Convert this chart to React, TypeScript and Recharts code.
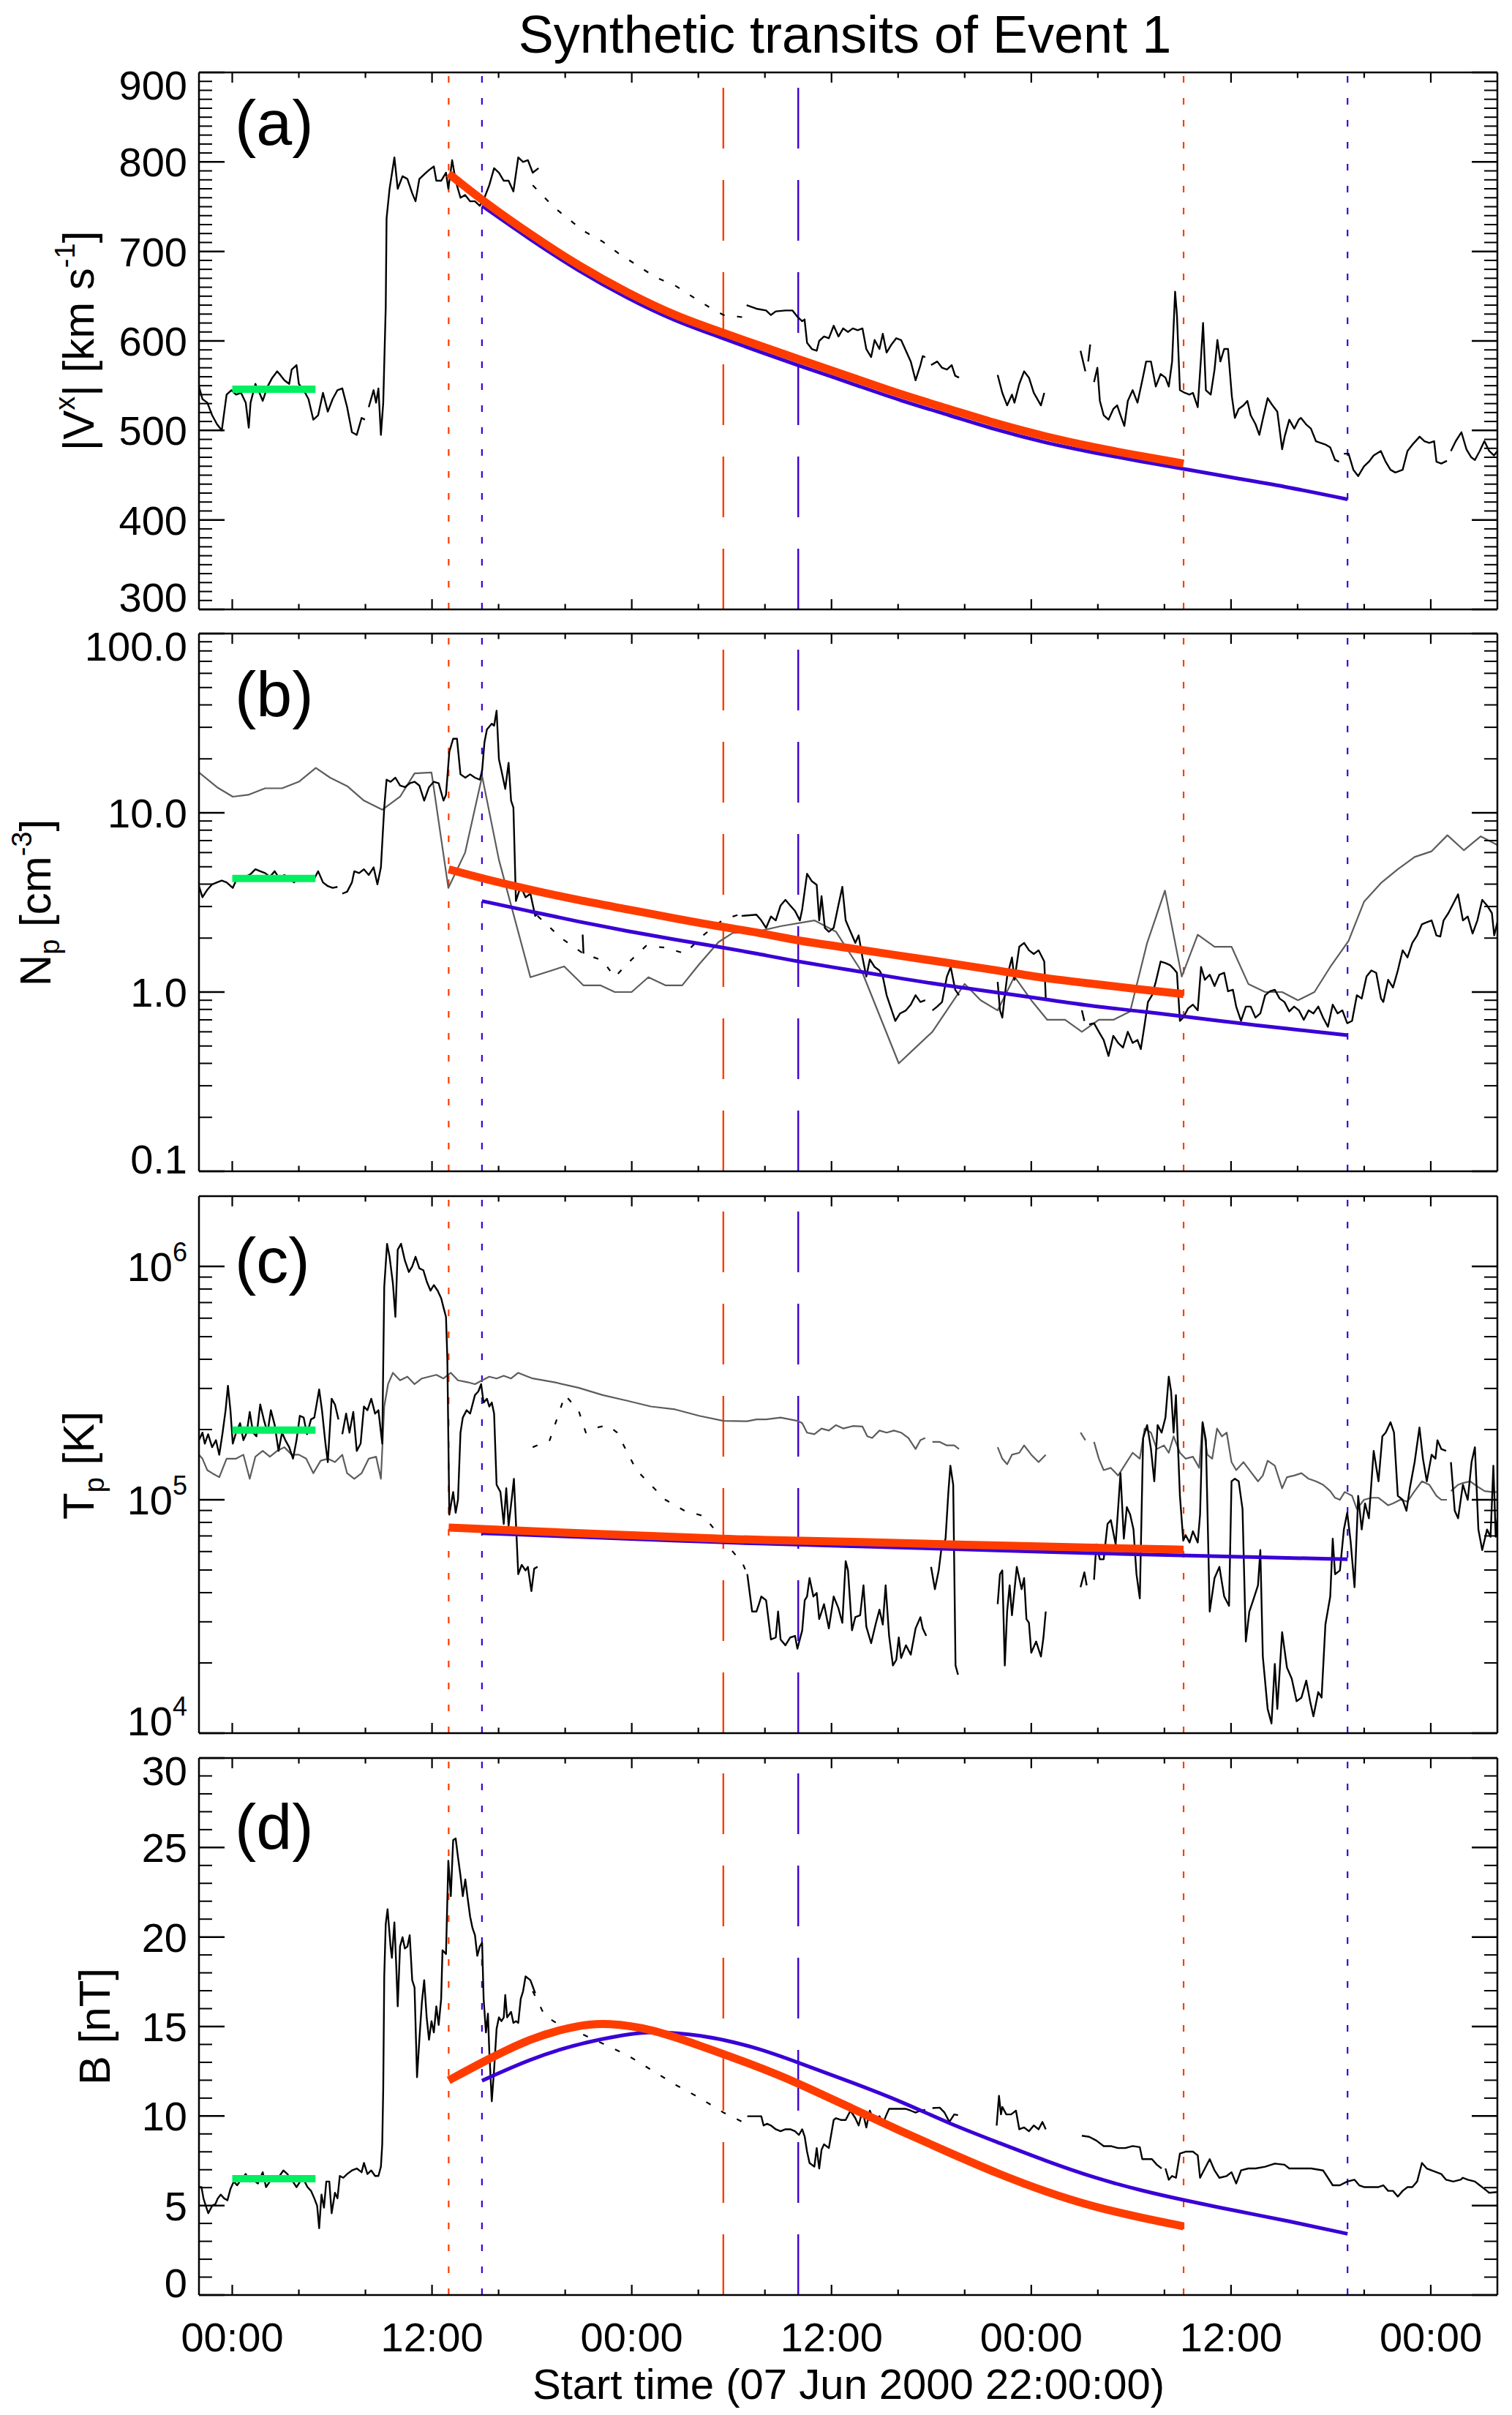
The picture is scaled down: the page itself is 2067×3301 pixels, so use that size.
import React from 'react';
import { LineChart, Line, XAxis, YAxis, ReferenceLine } from 'recharts';

type Pt = [number, number | null];

const FONT = '"Liberation Sans", Arial, Helvetica, sans-serif';
const RED = '#ff3c00';
const BLUE = '#3a00d6';
const GREEN = '#00f060';
const GRAY = '#5c5c5c';
const BLACK = '#000000';

// ---------- time axis: hours after 07 Jun 2000 22:00 ----------
const X_DOMAIN: [number, number] = [0, 78];
const X_TICKS = [2, 6, 10, 14, 18, 22, 26, 30, 34, 38, 42, 46, 50, 54, 58, 62, 66, 70, 74];
const X_MAJOR = [2, 14, 26, 38, 50, 62, 74];
const X_LABELS = ['00:00', '12:00', '00:00', '12:00', '00:00', '12:00', '00:00'];

// boundary times (hours)
const T_RED_START = 15.0;
const T_RED_END = 59.15;
const T_BLUE_START = 17.0;
const T_BLUE_END = 69.0;
const T_RED_MID = 31.5;
const T_BLUE_MID = 36.0;

// ---------- y tick values ----------
const A_MAJOR = [300, 400, 500, 600, 700, 800, 900];
const A_TICKS = [300,310,320,330,340,350,360,370,380,390,400,410,420,430,440,450,460,470,480,490,500,510,520,530,540,550,560,570,580,590,600,610,620,630,640,650,660,670,680,690,700,710,720,730,740,750,760,770,780,790,800,810,820,830,840,850,860,870,880,890,900];
const B_MAJOR = [0.1, 1, 10, 100];
const B_TICKS = [0.1,0.2,0.3,0.4,0.5,0.6,0.7,0.8,0.9,1,2,3,4,5,6,7,8,9,10,20,30,40,50,60,70,80,90,100];
const B_LABELS: Record<string, string> = { '0.1': '0.1', '1': '1.0', '10': '10.0', '100': '100.0' };
const C_MAJOR = [1e4, 1e5, 1e6];
const C_TICKS = [1e4,2e4,3e4,4e4,5e4,6e4,7e4,8e4,9e4,1e5,2e5,3e5,4e5,5e5,6e5,7e5,8e5,9e5,1e6];
const C_EXP: Record<string, string> = { '10000': '4', '100000': '5', '1000000': '6' };
const D_MAJOR = [0, 5, 10, 15, 20, 25, 30];
const D_TICKS = [0,1,2,3,4,5,6,7,8,9,10,11,12,13,14,15,16,17,18,19,20,21,22,23,24,25,26,27,28,29,30];

// ---------- (a) |Vx| km/s ----------
const A_OBS: Pt[] = [
  [0,549],[0.21,535],[0.5,531],[0.79,517],[1.08,507],[1.37,500],[1.66,540],[1.95,545],[2.23,540],[2.53,542],[2.81,531],[2.99,503],[3.1,531],[3.39,552],[3.68,540],[3.83,533],[4.12,549],[4.41,559],[4.7,566],[4.84,563],[5.13,556],[5.42,552],[5.57,568],[5.86,573],[6.0,552],[6.29,545],[6.58,535],[6.87,512],[7.16,517],[7.45,542],[7.74,521],[8.03,535],[8.32,545],[8.61,547],[8.9,526],[9.19,498],[9.48,495],[9.77,514],[9.97,512],[10.08,null],
  [10.2,526],[10.49,545],[10.64,531],[10.78,547],[10.93,495],[11.07,531],[11.22,638],[11.27,737],[11.45,770],[11.74,805],[11.94,770],[12.23,784],[12.52,781],[12.81,765],[13.01,756],[13.24,781],[13.53,786],[13.82,791],[14.11,795],[14.26,779],[14.55,779],[14.84,788],[14.98,770],[15.21,802],[15.42,779],[15.71,760],[15.99,763],[16.29,756],[16.58,756],[16.87,751],[17.15,760],[17.44,774],[17.73,793],[18.02,788],[18.31,779],[18.6,779],[18.89,767],[19.18,805],[19.47,800],[19.76,802],[20.05,788],[20.4,793],[26,null],
  [32.9,640],[33.49,636],[34.07,634],[34.36,629],[34.65,633],[35.23,634],[35.66,634],[35.95,627],[36.24,622],[36.38,624],[36.53,598],[36.82,591],[37.11,589],[37.26,600],[37.55,605],[37.84,603],[38.13,617],[38.42,605],[38.7,614],[38.99,610],[39.28,614],[39.57,612],[39.86,614],[40.09,591],[40.38,582],[40.59,601],[40.88,591],[41.08,608],[41.31,587],[41.6,596],[41.89,603],[42.18,601],[42.47,589],[42.76,577],[43.05,556],[43.34,573],[43.48,583],[43.63,582],[43.8,null],
  [43.98,573],[44.35,577],[44.64,570],[44.93,568],[45.22,573],[45.43,561],[45.66,559],[46.8,null],
  [47.98,562],[48.26,542],[48.55,528],[48.84,540],[48.99,531],[49.28,552],[49.57,566],[49.86,559],[50.15,542],[50.58,528],[50.78,542],[51.9,null],
  [52.96,589],[53.25,566],[53.33,null],[53.42,577],[53.54,596],[53.65,null],
  [53.77,554],[53.97,570],[54.12,533],[54.35,517],[54.64,512],[54.93,524],[55.16,528],[55.36,517],[55.59,505],[55.8,533],[56.09,545],[56.38,531],[56.67,556],[56.9,577],[57.19,577],[57.48,549],[57.77,563],[58.06,559],[58.26,549],[58.46,577],[58.64,655],[58.75,629],[58.93,545],[59.22,542],[59.5,540],[59.71,542],[60.0,526],[60.2,582],[60.32,620],[60.49,545],[60.78,540],[61.01,568],[61.18,601],[61.36,577],[61.59,591],[61.82,591],[62.05,538],[62.23,514],[62.46,524],[62.75,528],[62.98,533],[63.18,517],[63.47,507],[63.7,495],[63.9,512],[64.2,536],[64.49,528],[64.78,521],[65.07,479],[65.22,493],[65.5,512],[65.8,502],[66.07,512],[66.2,514],[66.5,507],[66.8,502],[67.1,488],[67.38,486],[67.7,484],[67.96,481],[68.25,467],[68.49,465],[68.62,null],
  [68.78,474],[69.06,474],[69.35,456],[69.64,449],[69.99,460],[70.28,465],[70.57,472],[71.0,477],[71.29,465],[71.58,456],[71.87,453],[72.31,456],[72.6,477],[72.89,484],[73.33,493],[73.62,488],[73.91,486],[74.2,488],[74.34,465],[74.63,463],[74.97,466],[75.08,null],
  [75.21,477],[75.5,488],[75.84,498],[76.14,479],[76.43,470],[76.65,467],[76.94,477],[77.22,488],[77.51,477],[77.8,472],[78.0,477],
];
const A_GAPFILL: Pt[] = [[20.05,774],[21.35,749],[23.09,723],[24.25,711],[25.27,697],[26.28,685],[27.44,671],[28.6,662],[29.76,648],[30.63,638],[31.5,629],[32.9,626]];
const A_UPSTREAM: Pt[] = [[2,546],[7,546]];
const A_RED: Pt[] = [[15.0,787],[17.01,757],[19.91,719],[22.8,684],[25.7,654],[28.6,628],[31.5,609],[33.49,596],[35.95,580],[39.28,559],[42.18,540],[45.08,524],[47.98,507],[50.87,493],[53.77,481],[56.67,471],[59.15,463]];
const A_BLUE: Pt[] = [[17.0,751],[19.91,713],[22.8,678],[25.7,648],[28.6,622],[31.5,603],[33.49,589],[35.95,573],[39.28,552],[42.18,533],[45.08,517],[47.98,500],[50.87,486],[53.77,475],[56.67,465],[59.16,457],[62.46,446],[65.36,437],[69.0,423]];

// ---------- (b) Np cm^-3 ----------
const B_OBS: Pt[] = [
  [0,3.9],[0.21,3.38],[0.5,3.72],[0.79,3.99],[1.08,4.09],[1.37,4.19],[1.66,4.09],[2.03,3.81],[2.23,4.19],[2.53,4.29],[2.81,4.4],[3.1,4.55],[3.39,4.84],[3.68,4.72],[3.97,4.61],[4.26,4.4],[4.55,4.72],[4.84,4.29],[5.13,4.5],[5.42,4.29],[5.71,4.09],[6.0,4.4],[6.29,4.29],[6.58,4.4],[6.87,4.19],[7.16,4.72],[7.45,4.09],[7.74,3.9],[8.03,3.81],[8.32,3.86],[8.46,null],
  [8.61,3.54],[8.9,3.63],[9.19,4.09],[9.33,4.72],[9.62,4.61],[9.91,4.84],[10.2,4.5],[10.49,4.96],[10.72,3.99],[10.93,4.96],[11.13,10.7],[11.27,15.3],[11.51,14.9],[11.8,15.7],[12.08,14.2],[12.37,13.9],[12.66,14.6],[12.95,14.9],[13.24,14.2],[13.53,11.7],[13.82,13.9],[14.11,14.9],[14.4,14.6],[14.69,11.7],[14.84,12.6],[15.04,21.9],[15.27,25.9],[15.5,25.9],[15.71,16.4],[16.0,15.7],[16.29,16.4],[16.58,15.7],[16.87,15.3],[17.01,17.2],[17.15,24.7],[17.3,29.2],[17.59,31.4],[17.73,30.6],[17.88,37.1],[18.02,19.9],[18.17,17.2],[18.4,13.6],[18.6,19.0],[18.75,11.7],[18.89,10.7],[19.04,3.22],[19.33,3.9],[19.62,3.38],[19.91,3.54],[20.2,2.66],[20.34,2.72],[21.5,null],
  [23.05,2.09],[23.1,1.64],[27,null],
  [32.6,2.66],[33.49,2.7],[33.78,2.51],[34.07,2.28],[34.36,2.64],[34.65,2.51],[34.94,3.04],[35.23,3.27],[35.52,3.04],[35.81,2.83],[36.1,2.51],[36.24,2.9],[36.53,4.57],[36.82,4.15],[37.11,3.96],[37.26,2.51],[37.4,3.43],[37.6,2.28],[37.84,2.17],[38.13,2.28],[38.41,3.04],[38.65,3.86],[38.85,2.51],[39.14,2.17],[39.43,1.88],[39.63,2.07],[39.86,1.56],[40.09,1.22],[40.3,1.52],[40.59,1.38],[40.88,1.32],[41.08,1.22],[41.31,0.96],[41.54,0.83],[41.83,0.69],[42.12,0.76],[42.47,0.79],[42.76,0.85],[43.05,0.96],[43.34,0.88],[43.63,0.9],[43.85,null],
  [44.06,0.79],[44.35,0.83],[44.64,0.88],[44.93,1.22],[45.16,1.38],[45.43,1.03],[45.66,0.96],[46.8,null],
  [47.98,1.14],[48.12,0.79],[48.26,0.72],[48.41,0.96],[48.55,1.22],[48.84,1.56],[48.99,1.17],[49.28,1.79],[49.57,1.88],[49.86,1.71],[50.15,1.63],[50.44,1.71],[50.78,1.48],[50.87,0.92],[52,null],
  [53.04,0.79],[53.19,0.69],[53.33,null],
  [53.48,0.66],[53.77,0.67],[54.06,0.6],[54.35,0.54],[54.64,0.44],[54.93,0.57],[55.22,0.52],[55.51,0.49],[55.8,0.6],[56.09,0.52],[56.38,0.54],[56.58,0.48],[56.81,0.66],[57.01,0.88],[57.25,0.96],[57.48,1.14],[57.77,1.48],[58.06,1.45],[58.35,1.41],[58.55,1.35],[58.75,1.28],[58.93,0.69],[59.13,0.72],[59.42,0.81],[59.71,0.85],[60.0,0.79],[60.2,1.38],[60.43,1.17],[60.72,1.25],[61.01,1.08],[61.3,1.25],[61.59,1.28],[61.82,1.01],[62.11,1.03],[62.31,0.83],[62.6,0.69],[62.89,0.83],[63.18,0.83],[63.47,0.72],[63.76,0.76],[64.05,0.96],[64.34,1.01],[64.63,1.03],[64.92,0.92],[65.21,0.88],[65.5,0.78],[65.79,0.83],[66.08,0.79],[66.37,0.7],[66.66,0.79],[66.95,0.76],[67.24,0.83],[67.53,0.72],[67.82,0.64],[68.11,0.85],[68.4,0.76],[68.69,0.79],[68.98,0.67],[69.27,0.69],[69.56,0.96],[69.85,0.92],[70.14,1.22],[70.43,1.32],[70.72,1.28],[71.01,0.92],[71.15,0.88],[71.44,1.17],[71.73,1.06],[72.02,1.32],[72.31,1.71],[72.6,1.56],[72.89,1.88],[73.18,2.07],[73.47,2.39],[73.76,2.45],[74.05,2.51],[74.34,2.07],[74.57,2.04],[74.77,2.51],[75.06,2.76],[75.35,3.11],[75.64,3.51],[75.93,2.51],[76.22,2.64],[76.51,2.12],[76.8,2.51],[77.09,3.27],[77.38,3.04],[77.67,2.76],[77.81,2.07],[78.0,2.45],
];
const B_REF: Pt[] = [[0,16.8],[1.08,13.9],[2.03,12.3],[2.96,12.6],[3.97,13.7],[4.99,13.7],[6.0,14.9],[7.02,17.8],[7.88,15.7],[8.9,14.1],[9.91,11.7],[11.01,10.4],[12.08,12.3],[12.95,16.6],[13.97,16.8],[14.98,3.81],[15.99,6.0],[17.01,16.0],[18.02,5.46],[19.91,1.21],[21.94,1.39],[23.09,1.09],[24.11,1.09],[24.98,1.0],[25.99,1.0],[27.0,1.21],[28.02,1.09],[29.03,1.09],[30.05,1.43],[31.21,1.9],[32.07,2.14],[33.49,2.17],[34.94,2.33],[36.97,2.51],[38.27,2.17],[39.86,1.28],[42.04,0.4],[43.05,0.49],[44.06,0.6],[45.08,0.83],[46.0,1.11],[46.96,0.9],[47.98,0.79],[48.99,1.22],[50.0,0.9],[50.96,0.7],[52.03,0.7],[53.04,0.6],[54.06,0.7],[54.93,0.7],[55.94,0.78],[56.96,1.88],[58.03,3.68],[59.04,1.22],[60.0,2.09],[61.01,1.79],[62.03,1.79],[63.04,1.11],[64.05,1.0],[65.07,1.0],[66.02,0.9],[67.01,1.0],[67.96,1.38],[69.06,1.93],[69.99,3.19],[71.01,4.06],[72.02,4.84],[73.03,5.67],[74.05,6.1],[75.0,7.5],[75.99,6.18],[77.0,7.39],[78.0,6.61]];
const B_GAPFILL: Pt[] = [[20.34,2.66],[21.79,1.99],[23.09,1.64],[24.25,1.5],[24.98,1.21],[25.7,1.43],[26.86,1.81],[28.02,1.77],[29.18,1.64],[30.34,2.09],[31.5,2.54],[32.36,2.69],[32.6,2.66]];
const B_UPSTREAM: Pt[] = [[2,4.3],[7,4.3]];
const B_RED: Pt[] = [[15.0,4.84],[17.01,4.3],[19.91,3.72],[22.8,3.25],[25.7,2.9],[28.6,2.57],[31.5,2.3],[33.49,2.16],[35.95,1.93],[39.28,1.75],[42.18,1.59],[45.08,1.45],[47.98,1.32],[50.87,1.19],[53.77,1.11],[56.67,1.03],[59.15,0.975]];
const B_BLUE: Pt[] = [[17.0,3.22],[19.91,2.82],[22.8,2.47],[25.7,2.19],[28.6,1.96],[31.5,1.77],[33.49,1.64],[35.95,1.48],[39.28,1.32],[42.18,1.19],[45.08,1.08],[47.98,0.995],[50.87,0.91],[53.77,0.83],[56.67,0.78],[59.16,0.73],[62.46,0.67],[65.36,0.625],[69.0,0.574]];

// ---------- (c) Tp K ----------
const C_OBS: Pt[] = [
  [0,1.8e5],[0.21,1.94e5],[0.35,1.74e5],[0.55,1.91e5],[0.79,1.68e5],[1.02,1.8e5],[1.22,1.56e5],[1.42,1.94e5],[1.6,2.42e5],[1.74,3.08e5],[1.89,2.42e5],[2.03,1.74e5],[2.23,1.94e5],[2.47,2.13e5],[2.67,1.8e5],[2.87,1.94e5],[3.05,2.38e5],[3.25,1.94e5],[3.45,1.87e5],[3.68,2.56e5],[3.92,2.17e5],[4.12,1.94e5],[4.32,2.42e5],[4.55,2.09e5],[4.78,1.62e5],[4.99,1.94e5],[5.19,1.8e5],[5.42,1.68e5],[5.65,1.5e5],[5.86,1.8e5],[6.06,2.29e5],[6.29,2.25e5],[6.49,1.91e5],[6.73,2.21e5],[6.93,2.25e5],[7.22,2.97e5],[7.39,2.42e5],[7.6,1.74e5],[7.74,1.45e5],[7.97,2.71e5],[8.17,2.56e5],[8.38,2.21e5],[8.5,null],
  [8.61,1.91e5],[8.84,2.34e5],[9.04,1.94e5],[9.27,2.38e5],[9.48,1.62e5],[9.71,1.74e5],[9.91,2.51e5],[10.12,2.42e5],[10.35,2.71e5],[10.58,2.34e5],[10.78,2.42e5],[11.01,1.74e5],[11.13,8.17e5],[11.3,1.25e6],[11.45,1.1e6],[11.65,8.47e5],[11.8,6.08e5],[11.94,1.18e6],[12.14,1.25e6],[12.37,1.06e6],[12.61,9.46e5],[12.81,1.0e6],[13.01,1.1e6],[13.24,9.81e5],[13.48,9.63e5],[13.68,8.63e5],[13.91,7.87e5],[14.11,8.32e5],[14.34,7.87e5],[14.55,7.31e5],[14.69,6.67e5],[14.84,6.08e5],[14.92,4.06e5],[15.04,8.64e4],[15.27,1.08e5],[15.42,8.8e4],[15.56,1.0e5],[15.71,1.94e5],[15.85,2.25e5],[16.08,2.42e5],[16.29,2.34e5],[16.58,2.81e5],[16.78,2.91e5],[16.95,3.13e5],[17.1,2.61e5],[17.3,2.71e5],[17.44,2.51e5],[17.59,2.61e5],[17.73,2.34e5],[17.88,1.16e5],[18.11,1.08e5],[18.31,7.88e4],[18.46,1.12e5],[18.6,7.74e4],[18.81,1.04e5],[18.92,1.23e5],[19.04,8.03e4],[19.18,4.8e4],[19.39,5.26e4],[19.62,4.98e4],[19.76,5.16e4],[19.97,4.06e4],[20.14,5.07e4],[20.34,5.16e4],[26,null],
  [32.94,4.8e4],[33.23,3.32e4],[33.49,3.32e4],[33.64,3.57e4],[33.78,3.85e4],[33.92,3.78e4],[34.07,3.71e4],[34.36,2.52e4],[34.65,2.57e4],[34.79,3.32e4],[34.94,2.52e4],[35.23,2.38e4],[35.52,2.57e4],[35.81,2.61e4],[35.95,2.3e4],[36.24,2.76e4],[36.39,3.71e4],[36.53,3.85e4],[36.68,4.62e4],[36.91,3.85e4],[37.11,3.99e4],[37.26,3.08e4],[37.55,3.57e4],[37.84,2.81e4],[38.13,3.85e4],[38.41,3.44e4],[38.65,2.97e4],[38.85,5.46e4],[38.99,4.98e4],[39.23,2.76e4],[39.43,3.14e4],[39.72,3.2e4],[39.92,4.3e4],[40.09,2.86e4],[40.38,2.43e4],[40.67,2.97e4],[40.88,3.38e4],[41.08,2.92e4],[41.25,4.3e4],[41.46,2.61e4],[41.69,1.95e4],[41.89,2.06e4],[42.04,2.57e4],[42.18,2.1e4],[42.47,2.38e4],[42.76,2.17e4],[43.05,2.81e4],[43.34,3.14e4],[43.48,2.81e4],[43.69,2.61e4],[43.85,null],
  [43.98,5.16e4],[44.21,4.14e4],[44.44,4.98e4],[44.59,6.09e4],[44.85,6.81e4],[45.02,1.08e5],[45.14,1.4e5],[45.31,1.16e5],[45.45,1.95e4],[45.6,1.78e4],[46.8,null],
  [47.98,3.57e4],[48.12,4.8e4],[48.26,4.98e4],[48.41,1.95e4],[48.55,3.32e4],[48.7,4.3e4],[48.84,3.2e4],[49.13,5.16e4],[49.42,4.14e4],[49.57,4.62e4],[49.71,3.08e4],[49.86,2.97e4],[50.0,2.21e4],[50.29,2.47e4],[50.58,2.13e4],[50.73,2.57e4],[50.87,3.32e4],[52,null],
  [52.96,4.22e4],[53.19,4.89e4],[53.33,4.3e4],[53.5,null],
  [53.77,4.54e4],[53.91,6.44e4],[54.12,5.56e4],[54.35,5.56e4],[54.58,7.88e4],[54.78,8.18e4],[55.07,6.44e4],[55.36,1.3e5],[55.56,6.81e4],[55.74,9.3e4],[55.94,8.64e4],[56.14,7.46e4],[56.32,4.8e4],[56.52,3.78e4],[56.72,1.84e5],[56.96,2.09e5],[57.19,1.65e5],[57.39,1.2e5],[57.59,2.09e5],[57.83,1.94e5],[58.06,2.25e5],[58.26,3.37e5],[58.4,2.91e5],[58.55,1.94e5],[58.69,2.81e5],[58.93,1.04e5],[59.13,6.68e4],[59.27,7.06e4],[59.51,6.56e4],[59.71,7.33e4],[60.0,6.56e4],[60.14,8.64e4],[60.29,2.15e5],[60.49,1.8e5],[60.72,3.32e4],[61.01,4.62e4],[61.3,5.16e4],[61.59,3.85e4],[61.88,3.51e4],[62.03,1.2e5],[62.23,1.23e5],[62.46,1.2e5],[62.69,9.13e4],[62.89,2.47e4],[63.1,3.32e4],[63.33,3.71e4],[63.62,4.3e4],[63.76,6.09e4],[63.91,2.13e4],[64.2,1.27e4],[64.43,1.1e4],[64.63,1.98e4],[64.78,1.27e4],[65.07,2.71e4],[65.36,1.91e4],[65.65,1.71e4],[65.94,1.37e4],[66.23,1.42e4],[66.52,1.68e4],[66.75,1.37e4],[66.95,1.18e4],[67.24,1.5e4],[67.44,1.42e4],[67.67,2.92e4],[67.96,3.85e4],[68.11,6.81e4],[68.25,4.8e4],[68.54,4.98e4],[68.78,7.46e4],[68.98,8.8e4],[69.18,6.68e4],[69.42,4.22e4],[69.64,1.04e5],[69.85,7.46e4],[70.05,9.65e4],[70.28,8.33e4],[70.57,1.62e5],[70.86,1.2e5],[71.09,1.87e5],[71.29,1.94e5],[71.58,2.15e5],[71.79,1.94e5],[72.02,1.04e5],[72.31,1.0e5],[72.54,8.97e4],[72.74,1.12e5],[73.03,1.45e5],[73.32,2.04e5],[73.53,1.5e5],[73.76,1.2e5],[74.05,1.56e5],[74.28,1.5e5],[74.4,1.8e5],[74.63,1.65e5],[74.92,1.62e5],[75.06,null],
  [75.21,1.45e5],[75.44,8.97e4],[75.64,8.33e4],[75.93,1.16e5],[76.22,1.0e5],[76.45,1.45e5],[76.65,1.68e5],[76.86,7.46e4],[77.09,6.09e4],[77.38,7.46e4],[77.59,6.94e4],[77.76,1.4e5],[77.9,6.94e4],[78.0,8.33e4],
];
const C_REF: Pt[] = [
  [0,1.56e5],[0.21,1.5e5],[0.5,1.34e5],[0.79,1.3e5],[1.22,1.25e5],[1.66,1.5e5],[2.23,1.5e5],[2.67,1.56e5],[3.05,1.23e5],[3.39,1.53e5],[3.83,1.62e5],[4.26,1.53e5],[4.7,1.62e5],[5.13,1.68e5],[5.57,1.56e5],[6.0,1.56e5],[6.44,1.5e5],[6.87,1.3e5],[7.31,1.47e5],[7.74,1.5e5],[8.17,1.45e5],[8.61,1.56e5],[8.9,1.3e5],[9.33,1.23e5],[9.77,1.3e5],[10.2,1.5e5],[10.64,1.53e5],[10.93,1.23e5],[11.13,2.51e5],[11.36,3.13e5],[11.65,3.5e5],[12.08,3.25e5],[12.52,3.37e5],[12.95,3.13e5],[13.39,3.31e5],[13.82,3.37e5],[14.26,3.43e5],[14.69,3.31e5],[15.13,3.5e5],[15.56,3.25e5],[16.14,3.19e5],[16.58,3.13e5],[17.01,3.25e5],[17.44,3.37e5],[17.88,3.31e5],[18.31,3.4e5],[18.75,3.31e5],[19.18,3.5e5],[19.62,3.4e5],[20.05,3.31e5],[21.35,3.19e5],[22.8,3.02e5],[24.25,2.81e5],[25.7,2.66e5],[27.15,2.51e5],[28.6,2.44e5],[30.05,2.29e5],[31.5,2.18e5],[32.94,2.17e5],
  [33.49,2.21e5],[34.07,2.21e5],[34.94,2.25e5],[35.95,2.18e5],[36.24,2.13e5],[36.53,1.94e5],[36.97,1.91e5],[37.4,2.02e5],[37.84,1.98e5],[38.27,2.09e5],[38.7,2.02e5],[39.28,2.07e5],[39.86,2.06e5],[40.15,1.87e5],[40.44,1.84e5],[40.88,1.98e5],[41.31,1.94e5],[41.75,1.98e5],[42.18,1.94e5],[42.62,1.84e5],[43.05,1.65e5],[43.34,1.8e5],[43.63,1.84e5],[43.85,null],
  [44.06,1.77e5],[44.5,1.77e5],[44.93,1.71e5],[45.37,1.71e5],[45.66,1.65e5],[46.8,null],
  [47.98,1.68e5],[48.26,1.5e5],[48.55,1.42e5],[48.84,1.56e5],[49.28,1.59e5],[49.57,1.71e5],[50.0,1.56e5],[50.44,1.45e5],[50.87,1.56e5],[52,null],
  [52.96,1.94e5],[53.25,1.8e5],[53.5,null],
  [53.77,1.77e5],[54.06,1.5e5],[54.35,1.34e5],[54.78,1.37e5],[55.22,1.27e5],[55.65,1.42e5],[56.09,1.59e5],[56.52,1.5e5],[56.81,2.02e5],[57.19,1.94e5],[57.54,1.65e5],[57.97,1.71e5],[58.26,1.59e5],[58.55,1.87e5],[58.93,1.59e5],[59.27,1.5e5],[59.71,1.53e5],[60.09,1.37e5],[60.29,2.15e5],[60.58,1.56e5],[60.87,1.5e5],[61.16,2.02e5],[61.45,1.87e5],[61.74,1.94e5],[62.03,1.45e5],[62.31,1.34e5],[62.75,1.45e5],[63.18,1.32e5],[63.62,1.2e5],[63.91,1.27e5],[64.2,1.47e5],[64.63,1.4e5],[65.07,1.12e5],[65.36,1.25e5],[65.79,1.27e5],[66.23,1.3e5],[66.66,1.23e5],[67.1,1.2e5],[67.53,1.16e5],[67.96,1.09e5],[68.25,1.02e5],[68.54,1.0e5],[68.83,1.08e5],[69.27,1.04e5],[69.56,9.13e4],[69.99,1.0e5],[70.43,1.02e5],[70.86,1.02e5],[71.15,9.83e4],[71.44,9.47e4],[71.73,9.65e4],[72.16,1.0e5],[72.6,9.83e4],[73.03,1.09e5],[73.47,1.2e5],[73.91,1.16e5],[74.34,1.04e5],[74.63,1.0e5],[74.97,1.0e5],[75.1,null],
  [75.21,1.09e5],[75.64,1.16e5],[75.93,1.18e5],[76.36,1.2e5],[76.8,1.14e5],[77.23,1.09e5],[77.67,1.08e5],[78.0,1.08e5],
];
const C_GAPFILL: Pt[] = [[20.05,1.68e5],[21.07,1.8e5],[21.99,2.81e5],[22.8,2.42e5],[23.24,1.94e5],[23.67,2.02e5],[24.54,2.09e5],[25.12,1.94e5],[26.28,1.34e5],[28.02,1.0e5],[29.18,8.97e4],[30.34,8.51e4],[31.5,6.68e4],[32.65,5.36e4],[32.94,4.8e4]];
const C_UPSTREAM: Pt[] = [[2,1.99e5],[7,1.99e5]];
const C_RED: Pt[] = [[15.0,7.6e4],[19.91,7.33e4],[25.7,7.06e4],[31.5,6.81e4],[33.49,6.73e4],[39.28,6.61e4],[45.08,6.44e4],[50.87,6.3e4],[56.67,6.16e4],[59.15,6.11e4]];
const C_BLUE: Pt[] = [[17.0,7.19e4],[22.8,6.93e4],[28.6,6.68e4],[33.46,6.49e4],[39.28,6.32e4],[45.08,6.16e4],[50.87,5.98e4],[56.67,5.83e4],[62.46,5.7e4],[69.0,5.56e4]];

// ---------- (d) B nT ----------
const D_OBS: Pt[] = [
  [0,6.03],[0.15,6.03],[0.27,5.4],[0.41,4.98],[0.56,4.57],[0.79,4.98],[0.99,5.09],[1.13,5.4],[1.31,5.61],[1.51,5.4],[1.71,5.29],[1.89,5.92],[2.09,6.34],[2.29,6.13],[2.53,6.44],[2.81,6.76],[3.05,6.34],[3.25,6.44],[3.54,6.23],[3.83,6.86],[4.03,6.03],[4.26,6.34],[4.55,6.44],[4.84,6.65],[5.07,6.96],[5.31,6.76],[5.57,6.44],[5.86,6.03],[6.15,6.44],[6.35,6.34],[6.52,6.03],[6.73,5.82],[6.93,5.4],[7.1,4.98],[7.22,3.73],[7.36,5.61],[7.51,4.88],[7.65,6.34],[7.83,6.34],[7.97,4.57],[8.17,5.71],[8.32,5.4],[8.46,6.65],[8.67,6.55],[8.9,6.76],[9.19,6.96],[9.48,7.07],[9.77,6.86],[9.91,7.38],[10.12,6.76],[10.35,6.96],[10.58,6.65],[10.78,6.65],[10.93,7.17],[11.01,8.42],[11.07,11.55],[11.13,17.8],[11.22,20.72],[11.33,21.55],[11.51,19.47],[11.59,18.84],[11.74,20.82],[11.85,18.43],[11.94,16.13],[12.08,19.47],[12.23,19.99],[12.37,19.36],[12.52,19.47],[12.66,20.1],[12.81,17.59],[12.95,17.18],[13.1,12.17],[13.24,14.26],[13.39,16.34],[13.53,17.59],[13.68,15.51],[13.82,14.26],[13.97,15.3],[14.11,14.67],[14.26,16.13],[14.4,15.09],[14.55,16.55],[14.63,19.26],[14.84,19.05],[14.98,24.26],[15.13,22.28],[15.27,25.41],[15.42,25.51],[15.56,24.47],[15.71,23.43],[15.85,22.28],[16.0,23.22],[16.14,22.18],[16.29,21.14],[16.43,20.51],[16.58,20.1],[16.72,18.95],[16.87,19.47],[17.01,19.68],[17.1,16.55],[17.24,14.67],[17.36,15.72],[17.44,13.63],[17.59,10.82],[17.73,12.59],[17.88,14.88],[18.02,15.51],[18.17,15.3],[18.31,15.51],[18.4,16.76],[18.51,15.51],[18.75,15.82],[18.89,15.2],[19.04,15.3],[19.18,15.2],[19.33,16.55],[19.47,16.97],[19.62,17.8],[19.91,17.59],[20.2,16.86],[26,null],
  [32.94,9.99],[33.49,9.99],[33.78,9.99],[33.92,9.47],[34.13,9.57],[34.36,9.47],[34.65,9.26],[34.94,9.15],[35.23,9.26],[35.52,9.26],[35.81,9.15],[36.04,8.94],[36.24,9.26],[36.39,8.84],[36.53,8.01],[36.68,7.38],[36.97,7.17],[37.11,8.21],[37.26,7.07],[37.4,8.11],[37.55,8.42],[37.84,8.21],[38.13,9.78],[38.27,9.88],[38.56,9.78],[38.85,9.78],[39.14,10.3],[39.43,9.88],[39.63,9.47],[39.86,10.3],[40.09,9.36],[40.3,10.3],[40.59,9.67],[40.88,9.99],[41.08,9.57],[41.31,10.09],[41.46,10.4],[41.89,10.4],[42.47,10.4],[42.76,10.3],[43.05,10.19],[43.34,10.3],[43.63,10.34],[43.85,null],
  [44.06,10.44],[44.5,10.47],[44.79,10.19],[45.08,9.67],[45.37,10.09],[45.6,10.05],[46.8,null],
  [47.92,9.47],[48.06,11.13],[48.18,10.09],[48.26,10.51],[48.5,10.09],[48.79,10.09],[49.08,10.3],[49.28,9.26],[49.57,9.36],[49.86,9.15],[50.15,9.47],[50.44,9.26],[50.67,9.67],[50.87,9.26],[52,null],
  [53.04,8.9],[53.48,8.84],[53.91,8.63],[54.35,8.32],[54.78,8.32],[55.22,8.21],[55.65,8.21],[56.09,8.32],[56.52,8.26],[56.67,7.59],[56.96,7.59],[57.25,7.59],[57.54,7.28],[57.83,7.07],[57.95,null],
  [58.06,7.07],[58.26,6.44],[58.46,6.65],[58.69,6.55],[58.93,7.9],[59.27,8.01],[59.71,8.01],[60.0,7.8],[60.14,6.55],[60.43,7.07],[60.72,7.59],[61.01,6.96],[61.3,6.55],[61.74,6.65],[62.03,6.86],[62.31,6.23],[62.6,6.96],[63.04,7.07],[63.47,7.07],[64.05,7.17],[64.63,7.34],[65.21,7.28],[65.5,7.07],[66.08,7.07],[66.81,7.07],[67.53,6.96],[67.82,6.55],[68.11,6.13],[68.54,6.13],[68.98,6.34],[69.42,6.44],[69.7,6.13],[69.99,6.03],[70.43,6.03],[70.86,6.03],[71.15,6.13],[71.44,5.82],[71.73,5.82],[72.02,5.5],[72.31,5.82],[72.6,6.03],[72.89,6.03],[73.18,6.34],[73.47,7.38],[73.76,7.07],[74.05,6.96],[74.34,6.86],[74.63,6.76],[74.92,6.44],[75.35,6.34],[75.79,6.44],[75.93,6.55],[76.22,6.44],[76.65,6.34],[76.94,6.13],[77.23,5.92],[77.51,5.71],[78.0,5.75],
];
const D_GAPFILL: Pt[] = [[20.05,16.97],[20.77,15.61],[21.65,15.09],[22.8,14.67],[24.25,14.05],[25.7,13.42],[27.15,12.59],[28.6,11.76],[30.05,11.03],[31.5,10.2],[32.65,9.67],[32.94,9.99]];
const D_UPSTREAM: Pt[] = [[2,6.5],[7,6.5]];
const D_RED: Pt[] = [[15.0,11.99],[17.01,13.0],[19.91,14.36],[22.8,15.09],[24.54,15.2],[27.15,14.88],[30.05,13.95],[33.46,12.8],[35.95,11.86],[39.28,10.4],[42.18,9.15],[45.08,7.95],[47.98,6.78],[50.87,5.76],[53.77,4.92],[56.67,4.3],[59.15,3.84]];
const D_BLUE: Pt[] = [[17.0,11.97],[19.91,13.2],[22.8,14.05],[25.7,14.57],[27.15,14.72],[30.05,14.57],[33.46,13.85],[35.95,13.0],[39.28,11.86],[42.18,10.82],[45.08,9.57],[47.98,8.53],[50.87,7.49],[53.77,6.55],[56.67,5.82],[59.16,5.3],[62.46,4.67],[65.36,4.15],[69.0,3.42]];

// ---------- rendering ----------
const toRows = (arr: Pt[]) => arr.map(([h, v]) => ({ h, v }));

const PAGE_W = 2067;
const MARGIN_L = 192;
const LEFT_W = 80;
const RIGHT_W = 10;
const MARGIN_R = 10;
const TOP_H = 20;
const AXIS_LINE = { stroke: BLACK, strokeWidth: 2.5 };

type SeriesDef = { data: Pt[]; color: string; width: number; dash?: string; smooth?: boolean };

interface PanelProps {
  divTop: number;
  marginTop: number;
  plotH: number;
  bottomH: number;
  domain: [number, number];
  log?: boolean;
  ticks: number[];
  major: number[];
  fmt: (v: number) => React.ReactNode;
  series: SeriesDef[];
  overlay: React.ReactNode;
  xLabels?: boolean;
  bottomOverlay?: React.ReactNode;
}

function Panel(p: PanelProps) {
  const H = p.marginTop + TOP_H + p.plotH + p.bottomH;
  const scale = p.log ? 'log' : 'linear';

  const yTickLeft = (props: any) => {
    const { x, y, payload } = props;
    const v = payload.value;
    const isMajor = p.major.includes(v);
    const len = isMajor ? 35 : 18;
    let ty = y + 20;
    if (v === p.domain[1]) ty += 17;
    if (v === p.domain[0]) ty -= 17;
    return (
      <g>
        <line x1={x} y1={y} x2={x + len} y2={y} stroke={BLACK} strokeWidth={isMajor ? 2.5 : 2} />
        {isMajor ? (
          <text x={x - 16} y={ty} textAnchor="end" fontFamily={FONT} fontSize={56} fill={BLACK}>
            {p.fmt(v)}
          </text>
        ) : null}
      </g>
    );
  };
  const yTickRight = (props: any) => {
    const { x, y, payload } = props;
    const isMajor = p.major.includes(payload.value);
    const len = isMajor ? 35 : 18;
    return <line x1={x} y1={y} x2={x - len} y2={y} stroke={BLACK} strokeWidth={isMajor ? 2.5 : 2} />;
  };
  const xTickBottom = (props: any) => {
    const { x, y, payload } = props;
    const i = X_MAJOR.indexOf(payload.value);
    const isMajor = i >= 0;
    const len = isMajor ? 14 : 7.5;
    return (
      <g>
        <line x1={x} y1={y} x2={x} y2={y - len} stroke={BLACK} strokeWidth={2.2} />
        {p.xLabels && isMajor ? (
          <text x={x} y={y + 77} textAnchor="middle" fontFamily={FONT} fontSize={56} fill={BLACK}>
            {X_LABELS[i]}
          </text>
        ) : null}
      </g>
    );
  };
  const xTickTop = (props: any) => {
    const { x, y, payload } = props;
    const isMajor = X_MAJOR.includes(payload.value);
    const len = isMajor ? 14 : 7.5;
    return <line x1={x} y1={y} x2={x} y2={y + len} stroke={BLACK} strokeWidth={2.2} />;
  };

  return (
    <div style={{ position: 'absolute', left: 0, top: p.divTop, width: PAGE_W, height: H }}>
      <LineChart width={PAGE_W} height={H} margin={{ top: p.marginTop, right: MARGIN_R, bottom: 0, left: MARGIN_L }}>
        <XAxis
          xAxisId="b"
          type="number"
          dataKey="h"
          domain={X_DOMAIN}
          allowDataOverflow
          ticks={X_TICKS}
          interval={0}
          tickSize={0}
          tickMargin={0}
          height={p.bottomH}
          tick={xTickBottom}
          axisLine={AXIS_LINE}
          label={p.bottomOverlay ? () => <g>{p.bottomOverlay}</g> : undefined}
        />
        <XAxis
          xAxisId="t"
          orientation="top"
          type="number"
          dataKey="h"
          domain={X_DOMAIN}
          allowDataOverflow
          ticks={X_TICKS}
          interval={0}
          tickSize={0}
          tickMargin={0}
          height={TOP_H}
          tick={xTickTop}
          axisLine={AXIS_LINE}
          label={() => <g>{p.overlay}</g>}
        />
        <YAxis
          yAxisId="l"
          type="number"
          scale={scale}
          domain={p.domain}
          allowDataOverflow
          ticks={p.ticks}
          interval={0}
          tickSize={0}
          tickMargin={0}
          width={LEFT_W}
          tick={yTickLeft}
          axisLine={AXIS_LINE}
        />
        <YAxis
          yAxisId="r"
          orientation="right"
          type="number"
          scale={scale}
          domain={p.domain}
          allowDataOverflow
          ticks={p.ticks}
          interval={0}
          tickSize={0}
          tickMargin={0}
          width={RIGHT_W}
          tick={yTickRight}
          axisLine={AXIS_LINE}
        />
        <ReferenceLine xAxisId="b" yAxisId="l" x={T_RED_START} stroke={RED} strokeWidth={2.2} strokeDasharray="9 21" />
        <ReferenceLine xAxisId="b" yAxisId="l" x={T_BLUE_START} stroke={BLUE} strokeWidth={2.2} strokeDasharray="9 21" />
        <ReferenceLine xAxisId="b" yAxisId="l" x={T_RED_MID} stroke={RED} strokeWidth={2.4} strokeDasharray="83 43" />
        <ReferenceLine xAxisId="b" yAxisId="l" x={T_BLUE_MID} stroke={BLUE} strokeWidth={2.4} strokeDasharray="83 43" />
        <ReferenceLine xAxisId="b" yAxisId="l" x={T_RED_END} stroke={RED} strokeWidth={2.2} strokeDasharray="9 21" />
        <ReferenceLine xAxisId="b" yAxisId="l" x={T_BLUE_END} stroke={BLUE} strokeWidth={2.2} strokeDasharray="9 21" />
        {p.series.map((s, i) => (
          <Line
            key={i}
            xAxisId="b"
            yAxisId="l"
            data={toRows(s.data)}
            dataKey="v"
            type={s.smooth ? 'basis' : 'linear'}
            stroke={s.color}
            strokeWidth={s.width}
            strokeDasharray={s.dash}
            strokeLinecap="butt"
            strokeLinejoin="round"
            dot={false}
            activeDot={false}
            connectNulls={false}
            isAnimationActive={false}
          />
        ))}
      </LineChart>
    </div>
  );
}

const obsStyle = (data: Pt[]): SeriesDef => ({ data, color: BLACK, width: 2.4 });
const refStyle = (data: Pt[]): SeriesDef => ({ data, color: GRAY, width: 2.2 });
const gapStyle = (data: Pt[]): SeriesDef => ({ data, color: BLACK, width: 2.2, dash: '7 17' });
const upStyle = (data: Pt[]): SeriesDef => ({ data, color: GREEN, width: 10 });
const blueStyle = (data: Pt[]): SeriesDef => ({ data, color: BLUE, width: 5, smooth: true });
const redStyle = (data: Pt[]): SeriesDef => ({ data, color: RED, width: 11, smooth: true });

const txt = { fontFamily: FONT, fill: BLACK } as const;

export default function App() {
  return (
    <div style={{ position: 'absolute', left: 0, top: 0, width: PAGE_W, height: 3301, background: '#ffffff', overflow: 'hidden' }}>
      {/* (a) */}
      <Panel
        divTop={0}
        marginTop={79}
        plotH={734}
        bottomH={40}
        domain={[300, 900]}
        ticks={A_TICKS}
        major={A_MAJOR}
        fmt={(v) => String(v)}
        series={[obsStyle(A_OBS), gapStyle(A_GAPFILL), upStyle(A_UPSTREAM), blueStyle(A_BLUE), redStyle(A_RED)]}
        overlay={
          <g>
            <text x={1155} y={72} textAnchor="middle" fontSize={72} {...txt}>Synthetic transits of Event 1</text>
            <text x={321} y={198} fontSize={88} {...txt}>(a)</text>
            <text transform="translate(128,466) rotate(-90)" x={0} y={0} textAnchor="middle" fontSize={60} {...txt}>
              |V<tspan dy={-26} fontSize={38}>x</tspan><tspan dy={26}>| [km s</tspan><tspan dy={-26} fontSize={38}>-1</tspan><tspan dy={26}>]</tspan>
            </text>
          </g>
        }
      />
      {/* (b) */}
      <Panel
        divTop={826}
        marginTop={20}
        plotH={735}
        bottomH={40}
        domain={[0.1, 100]}
        log
        ticks={B_TICKS}
        major={B_MAJOR}
        fmt={(v) => B_LABELS[String(v)]}
        series={[refStyle(B_REF), obsStyle(B_OBS), gapStyle(B_GAPFILL), upStyle(B_UPSTREAM), blueStyle(B_BLUE), redStyle(B_RED)]}
        overlay={
          <g>
            <text x={321} y={153} fontSize={88} {...txt}>(b)</text>
            <text transform="translate(69,408) rotate(-90)" x={0} y={0} textAnchor="middle" fontSize={60} {...txt}>
              N<tspan dy={12} fontSize={38}>p</tspan><tspan dy={-12}> [cm</tspan><tspan dy={-26} fontSize={38}>-3</tspan><tspan dy={26}>]</tspan>
            </text>
          </g>
        }
      />
      {/* (c) */}
      <Panel
        divTop={1595}
        marginTop={20}
        plotH={734}
        bottomH={40}
        domain={[1e4, 2e6]}
        log
        ticks={C_TICKS}
        major={C_MAJOR}
        fmt={(v) => (
          <>
            10<tspan dy={-27} fontSize={36}>{C_EXP[String(v)]}</tspan>
          </>
        )}
        series={[refStyle(C_REF), obsStyle(C_OBS), gapStyle(C_GAPFILL), upStyle(C_UPSTREAM), blueStyle(C_BLUE), redStyle(C_RED)]}
        overlay={
          <g>
            <text x={321} y={158} fontSize={88} {...txt}>(c)</text>
            <text transform="translate(128,408) rotate(-90)" x={0} y={0} textAnchor="middle" fontSize={60} {...txt}>
              T<tspan dy={14} fontSize={38}>p</tspan><tspan dy={-14}> [K]</tspan>
            </text>
          </g>
        }
      />
      {/* (d) */}
      <Panel
        divTop={2363}
        marginTop={20}
        plotH={734}
        bottomH={160}
        domain={[0, 30]}
        ticks={D_TICKS}
        major={D_MAJOR}
        fmt={(v) => String(v)}
        xLabels
        series={[obsStyle(D_OBS), gapStyle(D_GAPFILL), upStyle(D_UPSTREAM), blueStyle(D_BLUE), redStyle(D_RED)]}
        overlay={
          <g>
            <text x={321} y={164} fontSize={88} {...txt}>(d)</text>
            <text transform="translate(150,407) rotate(-90)" x={0} y={0} textAnchor="middle" fontSize={60} {...txt}>
              B [nT]
            </text>
          </g>
        }
        bottomOverlay={
          <text x={1160} y={916} textAnchor="middle" fontSize={58} {...txt}>Start time (07 Jun 2000 22:00:00)</text>
        }
      />
    </div>
  );
}
